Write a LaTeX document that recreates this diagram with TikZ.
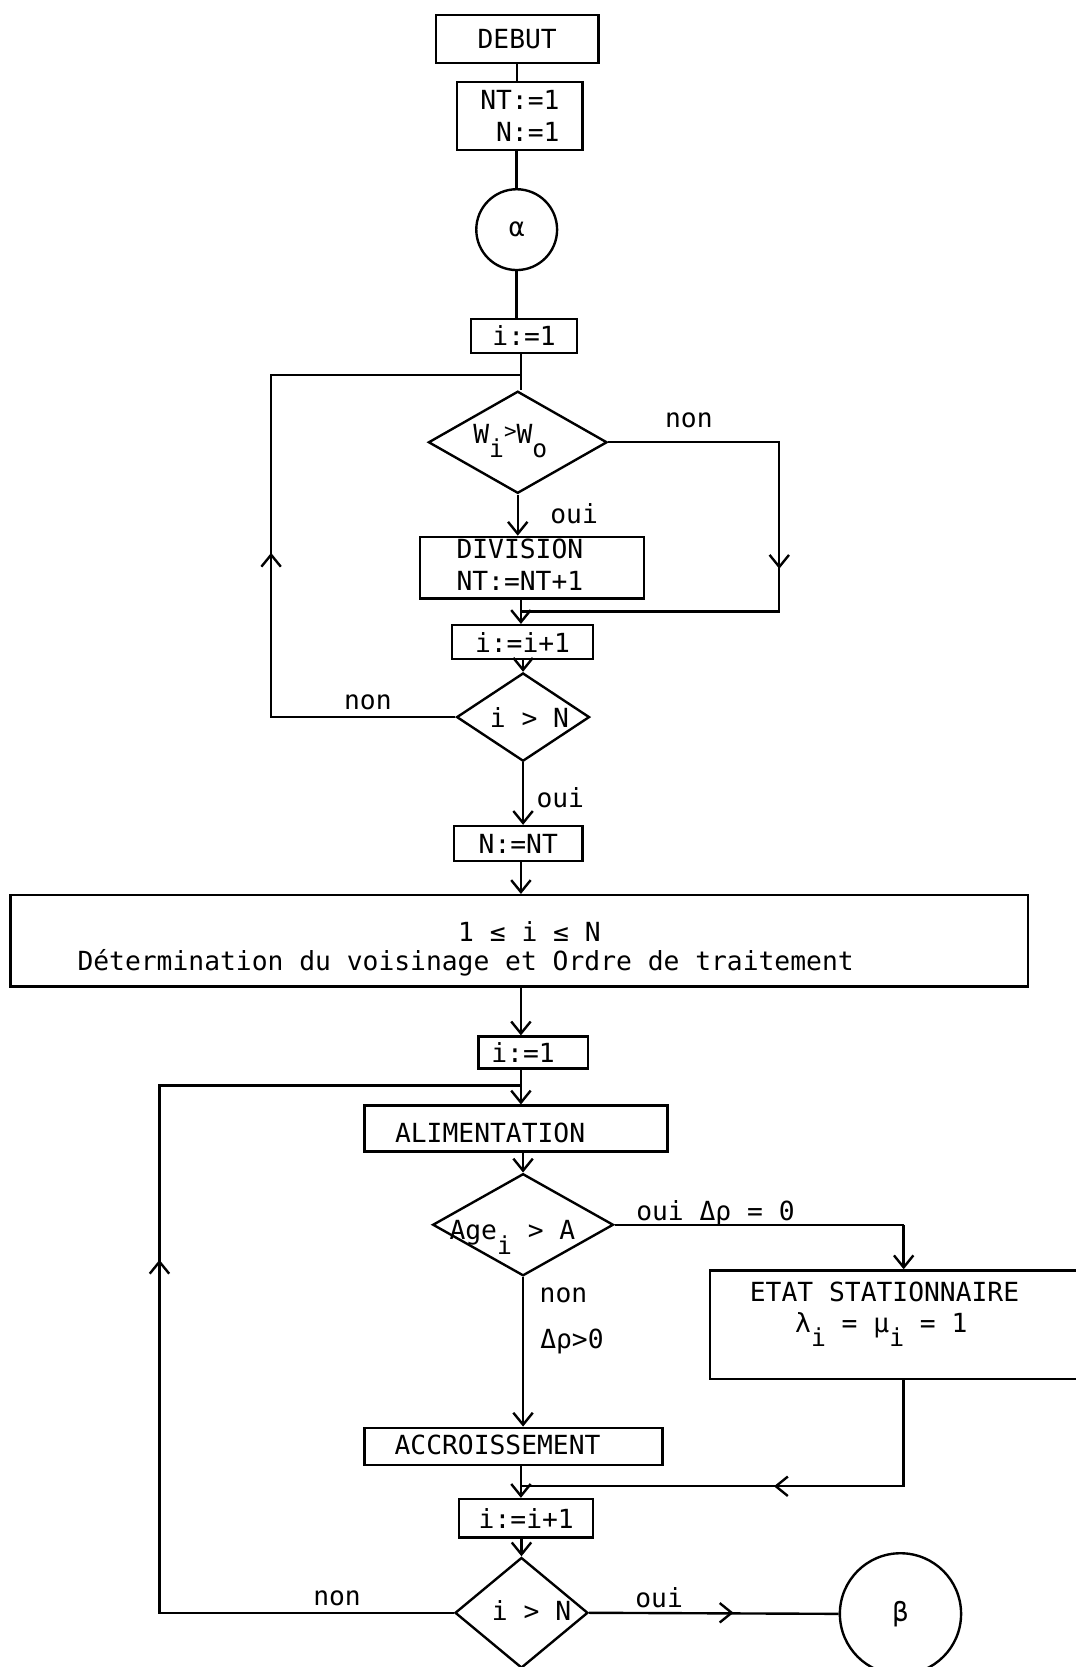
\documentclass[tikz,border=0pt]{standalone}
\usepackage{fontspec}
\setmonofont{DejaVu Sans Mono}
\usetikzlibrary{shapes.geometric,arrows.meta,calc}
\newcommand\sbs[1]{\raisebox{-0.55em}{\fontsize{16.5}{16.5}\selectfont #1}}
\newcommand\gtup{\raisebox{0.2em}{\fontsize{14}{14}\selectfont >}}
\begin{document}
\begin{tikzpicture}[x=0.025cm,y=-0.025cm,
  line width=1.6pt,
  txt/.style={font=\ttfamily\fontsize{17.6}{21.3}\selectfont, inner sep=0pt, align=center},
  box/.style={draw, rectangle, inner sep=0pt, font=\ttfamily\fontsize{17.6}{21.3}\selectfont},
  dia/.style={draw, diamond, inner sep=0pt},
  circ/.style={draw, circle, inner sep=0pt, font=\ttfamily\fontsize{17.6}{21.3}\selectfont},
  arr/.style={-{Straight Barb[length=8pt,width=13pt]}}]
\clip (0,0) rectangle (1012,1568);
% ---------- nodes ----------
\node[box, minimum width=3.825cm, minimum height=1.125cm] (debut) at (486.5,36.5) {DEBUT};
\node[box, minimum width=2.95cm, minimum height=1.6cm, align=right] (nt) at (489,109) {NT:=1\\N:=1};
\node[circ, minimum size=1.9cm] (alpha) at (486,216) {α};
\node[box, minimum width=2.5cm, minimum height=0.8cm] (ia) at (493,316) {i:=1};
\node[dia, minimum width=4.2cm, minimum height=2.4cm] (dW) at (487,416) {};
\node[txt, anchor=base] (tW) at (480,417) {W\sbs{i}\gtup W\sbs{o}};
\node[box, minimum width=5.275cm, minimum height=1.45cm] (div) at (500.5,534) {};
\node[txt] (tdiv) at (489,531) {DIVISION\\NT:=NT+1};
\node[box, minimum width=3.325cm, minimum height=0.8cm] (inc) at (491.5,604) {i:=i+1};
\node[dia, minimum width=3.125cm, minimum height=2.075cm] (dN) at (492,674.5) {};
\node[txt] (tdN) at (498,675) {i > N};
\node[box, minimum width=3.025cm, minimum height=0.825cm] (nnt) at (487.5,793.5) {N:=NT};
\node[box, minimum width=23.925cm, minimum height=2.15cm] (big) at (488.5,885) {};
\node[txt] (t1) at (498,876) {1 ≤ i ≤ N};
\node[txt] (t2) at (438,906) {Détermination du voisinage et Ordre de traitement};
\node[box, minimum width=2.575cm, minimum height=0.75cm] (ib) at (501.5,990) {};
\node[txt] (tib) at (492,990) {i:=1};
\node[box, minimum width=7.125cm, minimum height=1.075cm] (alim) at (485.5,1061.5) {};
\node[txt] (talim) at (461,1066) {ALIMENTATION};
\node[dia, minimum width=4.25cm, minimum height=2.4cm] (dA) at (492,1152) {};
\node[txt, anchor=base] (tA) at (482,1166) {Age\sbs{i} > A};
\node[box, minimum width=9.05cm, minimum height=2.55cm] (etat) at (849,1246) {};
\node[txt] (tetat1) at (832,1215) {ETAT STATIONNAIRE};
\node[txt, anchor=base] (tetat2) at (829,1253) {λ\sbs{i} = μ\sbs{i} = 1};
\node[box, minimum width=7.0cm, minimum height=0.875cm] (acc) at (483,1360.5) {};
\node[txt] (tacc) at (468,1359) {ACCROISSEMENT};
\node[box, minimum width=3.15cm, minimum height=0.9cm] (ic) at (495,1428) {i:=i+1};
\node[dia, minimum width=3.125cm, minimum height=2.6cm] (dN2) at (490.5,1517) {};
\node[txt] (tdN2) at (500,1515) {i > N};
\node[circ, minimum size=2.85cm] (beta) at (847,1518) {β};
% ---------- labels ----------
\node[txt] (lnon1) at (648,395) {non};
\node[txt] (loui1) at (540,483) {oui};
\node[txt] (lnon2) at (346,661) {non};
\node[txt] (loui2) at (527,750) {oui};
\node[txt] (loui3) at (673,1141) {oui Δρ = 0};
\node[txt] (lnon3) at (530,1218) {non};
\node[txt] (ldr) at (538,1262) {Δρ>0};
\node[txt] (lnon4) at (317,1503) {non};
\node[txt] (loui4) at (620,1503) {oui};
% ---------- coordinates ----------
\coordinate (r1) at (733,416);
\coordinate (r1m) at (733,535);
\coordinate (r2) at (733,575);
\coordinate (j1) at (490,575);
\coordinate (l1) at (255,674.5);
\coordinate (l1m) at (255,520);
\coordinate (l2) at (255,353);
\coordinate (l3) at (490,353);
\coordinate (a1) at (850,1152);
\coordinate (e1) at (850,1398);
\coordinate (e1m) at (728,1398);
\coordinate (j2) at (490,1398);
\coordinate (m1) at (150,1517);
\coordinate (m1m) at (150,1185);
\coordinate (m2) at (150,1021);
\coordinate (m3) at (490,1021);
\coordinate (bm) at (690,1517);
% ---------- connectors ----------
\draw (debut.south) -- (debut.south |- nt.north);
\draw (nt.south -| alpha) -- (alpha.north);
\draw (alpha.south) -- (alpha.south |- ia.north);
\draw (ia.south -| l3) -- (l3 |- dW.north);
\draw[arr] (dW.south) -- (dW.south |- div.north);
\draw (dW.east) -- (r1) -- (r2) -- (j1);
\draw[arr] (r1) -- (r1m);
\draw[arr] (div.south -| j1) -- (j1 |- inc.north);
\draw[arr] (inc.south -| dN) -- (dN.north);
\draw (dN.west) -- (l1) -- (l2) -- (l3);
\draw[arr] (l1) -- (l1m);
\draw[arr] (dN.south) -- (dN.south |- nnt.north);
\draw[arr] (nnt.south -| j1) -- (j1 |- big.north);
\draw[arr] (big.south -| j1) -- (j1 |- ib.north);
\draw[arr] (ib.south -| j1) -- (j1 |- alim.north);
\draw[arr] (alim.south -| dA) -- (dA.north);
\draw (dA.east) -- (a1);
\draw[arr] (a1) -- (a1 |- etat.north);
\draw[arr] (dA.south) -- (dA.south |- acc.north);
\draw (etat.south -| e1) -- (e1) -- (j2);
\draw[arr] (e1) -- (e1m);
\draw[arr] (acc.south -| j2) -- (j2 |- ic.north);
\draw[arr] (ic.south -| dN2) -- (dN2.north);
\draw (dN2.west) -- (m1) -- (m2) -- (m3);
\draw[arr] (m1) -- (m1m);
\draw (dN2.east) -- (beta.west);
\draw[arr] (dN2.east) -- (bm);
\end{tikzpicture}
\end{document}
